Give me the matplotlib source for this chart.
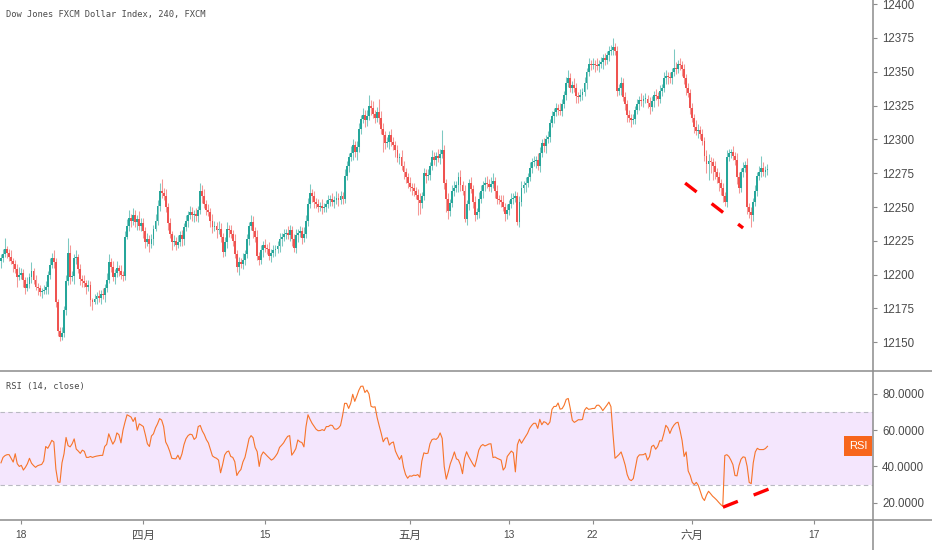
import numpy as np
import matplotlib.pyplot as plt
from matplotlib.lines import Line2D

# 4h candles, Dow Jones FXCM Dollar Index
first_open = 12210
closes = [
    12212, 12215, 12219, 12216, 12213, 12210, 12208, 12204, 12198, 12200,
    12201, 12196, 12190, 12193, 12198, 12203, 12196, 12191, 12190, 12187,
    12188, 12189, 12191, 12200, 12207, 12212, 12209, 12180, 12158, 12154,
    12157, 12174, 12195, 12216, 12198, 12199, 12212, 12213, 12204, 12197,
    12195, 12194, 12191, 12192, 12181, 12180, 12182, 12184, 12183, 12186,
    12185, 12190, 12196, 12209, 12206, 12198, 12201, 12205, 12203, 12200,
    12199, 12228, 12236, 12242, 12240, 12244, 12239, 12241, 12236, 12238,
    12232, 12224, 12226, 12223, 12226, 12234, 12240, 12251, 12262, 12260,
    12258, 12250, 12238, 12230, 12224, 12225, 12222, 12224, 12229, 12226,
    12235, 12240, 12244, 12246, 12244, 12245, 12243, 12248, 12262, 12258,
    12252, 12248, 12246, 12240, 12235, 12236, 12233, 12234, 12228, 12217,
    12224, 12234, 12233, 12230, 12225, 12215, 12206, 12209, 12208, 12211,
    12215, 12226, 12236, 12239, 12232, 12228, 12214, 12211, 12218, 12222,
    12220, 12219, 12214, 12216, 12218, 12219, 12221, 12226, 12228, 12230,
    12231, 12229, 12233, 12226, 12220, 12229, 12231, 12232, 12227, 12230,
    12240, 12252, 12260, 12258, 12254, 12252, 12250, 12251, 12249, 12250,
    12252, 12255, 12256, 12254, 12255, 12257, 12255, 12258, 12256, 12273,
    12280, 12287, 12290, 12296, 12291, 12294, 12308, 12315, 12318, 12314,
    12317, 12325, 12323, 12319, 12316, 12320, 12316, 12308, 12303, 12297,
    12298, 12303, 12298, 12296, 12292, 12286, 12287, 12280, 12276, 12272,
    12268, 12265, 12264, 12262, 12259, 12255, 12253, 12258, 12275, 12273,
    12274, 12280, 12287, 12285, 12288, 12286, 12289, 12292, 12268, 12256,
    12247, 12253, 12262, 12264, 12266, 12272, 12266, 12262, 12241, 12252,
    12268, 12263, 12254, 12244, 12246, 12256, 12262, 12266, 12268, 12267,
    12265, 12267, 12269, 12262, 12256, 12255, 12254, 12250, 12245, 12248,
    12252, 12256, 12257, 12258, 12239, 12254, 12264, 12266, 12268, 12272,
    12279, 12283, 12284, 12285, 12280, 12290, 12297, 12295, 12300, 12302,
    12312, 12317, 12320, 12323, 12322, 12321, 12326, 12333, 12342, 12345,
    12338, 12340, 12338, 12332, 12331, 12333, 12335, 12342, 12350, 12356,
    12355, 12356, 12355, 12354, 12356, 12357, 12360, 12359, 12362, 12365,
    12366, 12368, 12365, 12336, 12338, 12342, 12331, 12326, 12318, 12316,
    12314, 12315, 12322, 12326, 12329, 12328, 12330, 12330, 12327, 12324,
    12328, 12333, 12332, 12330, 12336, 12338, 12345, 12347, 12346, 12345,
    12350, 12353, 12352, 12356, 12355, 12352, 12345, 12338, 12334, 12323,
    12316, 12309, 12306, 12307, 12304, 12299, 12288, 12282, 12284, 12283,
    12280, 12276, 12272, 12268, 12264, 12258, 12254, 12287, 12290, 12291,
    12288, 12285, 12272, 12264, 12276, 12279, 12281, 12250, 12246, 12244,
    12254, 12262, 12273, 12276, 12279, 12276, 12277, 12278,
]
# wick lengths above max(open, close) and below min(open, close)
wick_up = [
    3, 4, 8, 2, 3, 5, 2, 3, 4, 6, 4, 3, 2, 5, 3, 6, 2, 4, 3, 2,
    2, 3, 4, 3, 5, 4, 6, 3, 2, 3, 4, 3, 5, 11, 6, 4, 3, 5, 2, 4,
    3, 5, 2, 4, 3, 2, 4, 3, 5, 3, 4, 3, 5, 6, 3, 4, 3, 5, 2, 4,
    3, 4, 5, 6, 3, 5, 4, 3, 6, 4, 4, 3, 5, 3, 4, 3, 5, 4, 6, 9,
    4, 5, 3, 4, 2, 4, 3, 5, 3, 4, 3, 4, 3, 5, 4, 3, 4, 3, 6, 4,
    5, 3, 4, 3, 5, 4, 3, 6, 4, 3, 4, 5, 3, 4, 3, 5, 3, 4, 3, 5,
    3, 4, 3, 5, 4, 3, 5, 3, 4, 3, 4, 3, 5, 3, 4, 3, 4, 5, 3, 4,
    3, 5, 4, 3, 4, 5, 3, 4, 3, 5, 4, 5, 7, 3, 4, 3, 4, 3, 5, 3,
    3, 4, 3, 4, 3, 5, 3, 4, 3, 5, 4, 3, 5, 4, 3, 5, 4, 3, 5, 4,
    5, 8, 4, 5, 3, 4, 10, 5, 4, 3, 4, 3, 5, 4, 3, 4, 3, 5, 4, 3,
    3, 4, 3, 4, 3, 4, 5, 3, 4, 3, 4, 3, 5, 4, 3, 5, 4, 15, 4, 3,
    4, 3, 4, 5, 3, 4, 5, 3, 4, 3, 3, 4, 3, 4, 3, 5, 4, 3, 4, 5,
    4, 5, 6, 3, 4, 3, 4, 5, 3, 4, 3, 4, 3, 4, 3, 4, 5, 3, 4, 3,
    4, 3, 4, 3, 5, 4, 3, 4, 3, 4, 3, 4, 3, 4, 3, 5, 4, 3, 4, 6,
    4, 3, 5, 4, 3, 4, 3, 4, 3, 4, 3, 4, 3, 5, 3, 4, 3, 4, 3, 4,
    4, 7, 3, 4, 3, 4, 3, 4, 3, 4, 3, 4, 3, 4, 3, 5, 3, 4, 3, 4,
    4, 3, 4, 3, 4, 3, 5, 4, 3, 4, 3, 14, 4, 3, 4, 3, 4, 3, 4, 3,
    4, 3, 5, 4, 3, 4, 3, 4, 5, 3, 3, 4, 3, 4, 3, 4, 3, 5, 3, 2,
    4, 3, 5, 4, 3, 4, 3, 5, 3, 4, 3, 4, 3, 4, 9, 4, 3, 4,
]
wick_dn = [
    5, 3, 2, 4, 3, 2, 6, 3, 7, 2, 3, 5, 4, 2, 3, 4, 3, 2, 5, 3,
    4, 2, 3, 5, 3, 2, 4, 4, 3, 3, 2, 3, 4, 3, 5, 3, 6, 4, 3, 5,
    4, 3, 5, 3, 4, 6, 2, 4, 3, 5, 3, 5, 3, 2, 4, 3, 5, 3, 4, 3,
    4, 3, 2, 4, 5, 3, 4, 6, 3, 4, 5, 4, 3, 6, 3, 4, 2, 3, 4, 3,
    3, 4, 5, 3, 6, 3, 4, 2, 3, 5, 4, 3, 5, 3, 4, 5, 3, 4, 3, 5,
    3, 4, 3, 5, 4, 3, 6, 3, 4, 4, 3, 4, 5, 3, 4, 3, 4, 6, 3, 4,
    4, 3, 4, 3, 5, 4, 3, 4, 3, 5, 3, 4, 3, 5, 3, 4, 3, 4, 5, 3,
    4, 3, 4, 5, 3, 4, 5, 3, 4, 3, 3, 4, 3, 4, 5, 3, 4, 3, 4, 3,
    4, 3, 4, 3, 5, 3, 4, 3, 4, 3, 3, 4, 3, 5, 4, 6, 3, 4, 3, 5,
    4, 3, 5, 3, 4, 3, 5, 4, 12, 4, 3, 5, 3, 4, 5, 3, 4, 3, 5, 4,
    4, 3, 5, 4, 3, 11, 8, 4, 3, 5, 3, 4, 3, 4, 5, 3, 4, 3, 5, 10,
    6, 4, 3, 4, 3, 5, 4, 3, 2, 4, 4, 3, 5, 4, 3, 4, 3, 5, 4, 3,
    3, 4, 3, 5, 4, 3, 4, 3, 5, 4, 4, 3, 4, 3, 2, 4, 3, 4, 5, 3,
    3, 4, 3, 5, 3, 4, 3, 4, 5, 3, 4, 3, 5, 3, 4, 3, 4, 3, 4, 3,
    3, 4, 3, 5, 4, 3, 4, 3, 5, 3, 4, 3, 5, 3, 4, 3, 5, 4, 3, 4,
    3, 4, 3, 4, 3, 5, 3, 4, 5, 3, 5, 3, 4, 3, 4, 3, 4, 3, 4, 5,
    3, 4, 3, 5, 3, 4, 3, 4, 5, 3, 4, 3, 4, 3, 4, 5, 4, 5, 3, 4,
    3, 4, 3, 5, 4, 3, 4, 7, 12, 8, 10, 5, 4, 6, 5, 4, 3, 4, 3, 4,
    3, 4, 5, 4, 3, 4, 3, 5, 4, 9, 4, 3, 4, 3, 4, 3, 4, 3,
]
# RSI(14, close), one value per candle
rsi = [
    42, 45, 46, 46.5, 46.5, 44.5, 42.4, 47, 41.5, 40,
    40.6, 38, 39.5, 41.5, 44.5, 41.8, 40.5, 39.5, 40.4, 40.8,
    41.1, 43, 51, 50, 52, 54.4, 53.5, 38.5, 31.5, 31.2,
    42, 47, 56, 51.5, 50.8, 52.5, 55.2, 49.6, 48.5, 47.2,
    49, 48.3, 45, 45, 45.5, 45, 45.4, 45.7, 45.9, 46.1,
    46.1, 51, 52.2, 58, 55, 52.3, 54.2, 58.5, 57.5, 53,
    60, 64.5, 68.5, 67.9, 67.2, 64.8, 67, 60, 63.5, 62.8,
    62, 57.5, 52.5, 51, 56.8, 58, 61.3, 63.5, 66.4, 65.6,
    62, 53.5, 51.3, 48.3, 44.5, 44.3, 44.2, 46.2, 43.8, 46.9,
    52, 55.3, 57, 57.8, 57.5, 54.9, 56, 62, 62.6, 59.6,
    57.6, 54.8, 53, 49.3, 45.8, 45, 44.5, 43.5, 36.5, 41,
    46.3, 48, 48.5, 45.5, 45, 42.6, 35, 37, 38.3, 42.5,
    45, 50, 55.3, 57, 55.8, 50.5, 48.2, 40, 46, 48,
    46.9, 45.7, 44.6, 43.5, 44.2, 45.6, 47.3, 50.5, 51.7, 53,
    55, 56.6, 57, 46.2, 47.8, 49.8, 54.6, 53.6, 53.2, 50.8,
    61.9, 68.5, 66, 63.8, 62.2, 60.5, 59.7, 59.8, 60.3, 59.8,
    62, 62, 62.8, 62.6, 60.7, 60.5, 61.2, 62.6, 68, 74.8,
    74.8, 72, 74.8, 79.8, 75.9, 78.8, 82, 84.2, 84.3, 80.8,
    82.1, 80, 73.2, 72.7, 72.9, 67, 62.5, 58.3, 53.6, 55.5,
    55.8, 51.8, 53, 53.5, 48.5, 46, 43.8, 46, 39.5, 35.5,
    33.5, 34.8, 34.6, 35.2, 35, 35.5, 34, 43, 47.5, 47.1,
    47.3, 52.5, 54.8, 55.2, 54.9, 56, 58.5, 55.5, 40, 33,
    37, 41.5, 44.5, 48, 44.2, 43.6, 40.8, 36, 44.5, 48.1,
    45.5, 43.5, 41.5, 39.8, 44, 49, 51.2, 52.1, 51.3, 51.8,
    52.4, 52.5, 44.9, 45.2, 44.5, 44, 43.5, 38, 39.5, 45.5,
    47, 48.5, 47.5, 37, 52, 55, 52.8, 54.7, 56.5, 58.3,
    61, 62.6, 63.8, 63.8, 61, 66, 63, 64.7, 64.2, 63,
    64.5, 71.5, 73.1, 73.1, 75, 71.6, 71.9, 73.8, 77, 77.5,
    72, 65.5, 64.3, 65, 65.8, 65.7, 65.9, 71, 72.5, 71.5,
    71.7, 72, 72, 73.7, 73.8, 72.6, 70.8, 72.3, 73.8, 75.5,
    73, 58, 44.5, 45.5, 46.6, 48, 44.6, 40.8, 35.5, 32.8,
    32.2, 33.3, 39, 45, 46.4, 46.4, 46.5, 47.2, 43.5, 45.5,
    51, 51.7, 49.5, 51, 54.2, 54, 58, 62.7, 61.3, 58.2,
    61, 62.8, 64, 64.4, 59.8, 54.3, 45.5, 48, 37.5, 35,
    31.2, 30, 31.2, 29.5, 26, 22.7, 21.2, 24.2, 26.3, 25,
    23.6, 22.6, 21.5, 20.2, 19, 18, 46, 46.5, 45.5, 43.5,
    41, 35, 34.8, 40.5, 44, 45.3, 45, 40, 31.2, 30.5,
    42, 48, 50, 49.3, 49.3, 49.3, 49.9, 51.1,
]

# time axis: candle index where each labelled day starts
tick_index = [10, 70, 130, 201, 250, 291, 340, 400]
tick_labels = ["18", "四月", "15", "五月", "13", "22", "六月", "17"]
price_ticks = list(range(12150, 12401, 25))
rsi_ticks = [20, 40, 60, 80]

# hand-drawn divergence lines (candle index, value)
trend_price = ([336.5, 365.0], [12267.7, 12234.5])
trend_rsi = ([355.1, 377.8], [17.5, 27.6])

plt.rcParams['font.family'] = ['Liberation Sans', 'Noto Sans CJK SC']

UP, DOWN = '#26a69a', '#ef5350'
AXIS = '#8c8c8c'
TXT = '#4a4a4a'
W, H = 932, 550

c = np.array(closes, dtype=float)
o = np.array([first_open] + closes[:-1], dtype=float)
hi = np.maximum(o, c) + np.array(wick_up)
lo = np.minimum(o, c) - np.array(wick_dn)
x = np.arange(len(c))
cols = np.where(c >= o, UP, DOWN)

fig = plt.figure(figsize=(W / 100, H / 100), dpi=100)
price = fig.add_axes([0, 1 - 371 / H, 873 / W, 371 / H])
osc = fig.add_axes([0, 30 / H, 873 / W, 148 / H])

# candles
price.vlines(x, lo, hi, colors=cols, linewidth=0.75, alpha=0.6, zorder=2)
price.bar(x, np.maximum(np.abs(c - o), 0.8), bottom=np.minimum(o, c),
          width=0.92, color=cols, linewidth=0, zorder=3)
price.plot(*trend_price, color='#ff0000', lw=2.4, dashes=(4.35, 5.7), zorder=4)

price.set_xlim(-0.49, 428.9)
price.set_ylim(12128.8, 12403)
price.set_xticks([])
price.yaxis.tick_right()
price.set_yticks(price_ticks)
price.tick_params(axis='y', direction='out', length=2.9, width=0.8, color=AXIS,
                  labelcolor=TXT, labelsize=8.3, pad=3.6)
for s in price.spines.values():
    s.set_visible(False)

# RSI pane
osc.axhspan(30, 70, color='#f4e6fd', lw=0, zorder=0)
for lvl in (30, 70):
    osc.axhline(lvl, color='#b9b9c2', lw=0.8, dashes=(4, 3), zorder=1)
osc.plot(x, rsi, color='#f7742a', lw=0.8, zorder=3)
osc.plot(*trend_rsi, color='#ff0000', lw=2.4, dashes=(4.8, 5.1), zorder=4)

osc.set_xlim(-0.49, 428.9)
osc.set_ylim(10.45, 92.1)
osc.yaxis.tick_right()
osc.set_yticks(rsi_ticks)
osc.set_yticklabels([f"{v:.4f}" for v in rsi_ticks])
osc.tick_params(axis='y', direction='out', length=2.9, width=0.8, color=AXIS,
                labelcolor=TXT, labelsize=8.3, pad=3.6)
osc.set_xticks(tick_index)
osc.set_xticklabels(tick_labels)
osc.tick_params(axis='x', direction='out', length=2.9, width=0.8, color=AXIS,
                labelcolor=TXT, labelsize=7.4, pad=4.2)
for lab in osc.get_xticklabels():
    if not lab.get_text().isdigit():
        lab.set_fontsize(8.3)
for s in osc.spines.values():
    s.set_visible(False)

osc.annotate("RSI", xy=(858 / 873, rsi[-1]), xycoords=('axes fraction', 'data'),
             ha='center', va='center', color='white', fontsize=8,
             bbox=dict(boxstyle='square,pad=0.45', fc='#f7661c', ec='none'),
             annotation_clip=False, zorder=5)

# pane borders
fig.add_artist(Line2D([0, 1], [1 - 371 / H] * 2, color=AXIS, lw=1.1))
fig.add_artist(Line2D([0, 1], [30 / H] * 2, color=AXIS, lw=1.1))
fig.add_artist(Line2D([873 / W] * 2, [0, 1], color=AXIS, lw=1.1))

fig.text(6 / W, 1 - 15 / H, "Dow Jones FXCM Dollar Index, 240, FXCM",
         family='DejaVu Sans Mono', fontsize=6.3, color=TXT, va='center')
fig.text(6 / W, 1 - 387 / H, "RSI (14, close)",
         family='DejaVu Sans Mono', fontsize=6.3, color=TXT, va='center')

fig.savefig("out.png", dpi=100, facecolor='white')
